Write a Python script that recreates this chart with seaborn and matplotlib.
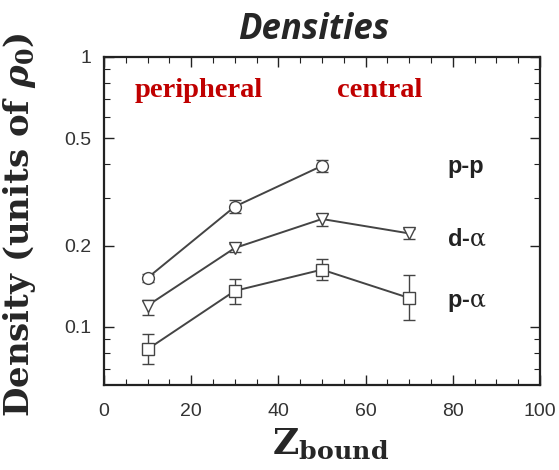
import matplotlib
matplotlib.use("Agg")
import matplotlib.pyplot as plt
import matplotlib.ticker as mticker
import seaborn as sns
import pandas as pd
import numpy as np

# ---- data ----
z_pp = [10, 30, 50]
dens_pp = [0.152, 0.279, 0.395]
lo_pp = [0.147, 0.265, 0.376]
hi_pp = [0.157, 0.295, 0.416]

z_da = [10, 30, 50, 70]
dens_da = [0.120, 0.196, 0.251, 0.222]
lo_da = [0.111, 0.190, 0.237, 0.211]
hi_da = [0.126, 0.202, 0.262, 0.230]

z_pa = [10, 30, 50, 70]
dens_pa = [0.0827, 0.136, 0.163, 0.128]
lo_pa = [0.0732, 0.122, 0.149, 0.106]
hi_pa = [0.0938, 0.151, 0.178, 0.156]

series_names = ["p-p", "d-α", "p-α"]
series_labels = [r"p-p", r"d-$\mathrm{\alpha}$", r"p-$\mathrm{\alpha}$"]
region_labels = ["peripheral", "central"]

sns.set_style("ticks")
plt.rcParams["mathtext.fontset"] = "custom"
plt.rcParams["mathtext.rm"] = "DejaVu Serif"
plt.rcParams["mathtext.bf"] = "DejaVu Serif:bold"
plt.rcParams["mathtext.it"] = "DejaVu Serif:italic"
plt.rcParams["mathtext.bfit"] = "DejaVu Serif:italic:bold"

df = pd.concat([
    pd.DataFrame({"Z": z_pp, "dens": dens_pp, "series": series_names[0]}),
    pd.DataFrame({"Z": z_da, "dens": dens_da, "series": series_names[1]}),
    pd.DataFrame({"Z": z_pa, "dens": dens_pa, "series": series_names[2]}),
])

fig = plt.figure(figsize=(5.59, 4.70), dpi=100)
ax = fig.add_axes([0.186, 0.181, 0.780, 0.698])

line_col = "#444444"
sns.lineplot(data=df, x="Z", y="dens", hue="series", style="series",
             markers={"p-p": "o", "d-α": "v", "p-α": "s"}, dashes=False,
             palette={n: line_col for n in series_names},
             markersize=8.5, markerfacecolor="white", markeredgecolor=line_col,
             markeredgewidth=1.0, linewidth=1.4, legend=False, ax=ax, zorder=3)

for zs, d, lo, hi in [(z_pp, dens_pp, lo_pp, hi_pp),
                      (z_da, dens_da, lo_da, hi_da),
                      (z_pa, dens_pa, lo_pa, hi_pa)]:
    d = np.array(d); lo = np.array(lo); hi = np.array(hi)
    ax.errorbar(zs, d, yerr=[d - lo, hi - d], fmt="none", ecolor=line_col,
                elinewidth=1.0, capsize=4, capthick=1.0, zorder=2)

ax.set_yscale("log")
ax.set_xlim(0, 100)
ax.set_ylim(0.061, 1.0)
ax.xaxis.set_major_locator(mticker.MultipleLocator(20))
ax.xaxis.set_minor_locator(mticker.MultipleLocator(5))
ax.yaxis.set_major_locator(mticker.FixedLocator([0.1, 0.2, 0.5, 1.0]))
ax.yaxis.set_major_formatter(mticker.FixedFormatter(["0.1", "0.2", "0.5", "1"]))
ax.yaxis.set_minor_locator(mticker.FixedLocator(
    [0.07, 0.08, 0.09, 0.3, 0.4, 0.6, 0.7, 0.8, 0.9]))
ax.yaxis.set_minor_formatter(mticker.NullFormatter())

ax.tick_params(which="both", direction="in", top=True, right=True,
               color="#222222", labelsize=14, labelcolor="#333333")
ax.tick_params(which="major", length=7, width=1.0)
ax.tick_params(axis="x", which="major", pad=13)
ax.tick_params(axis="y", which="major", pad=9)
ax.tick_params(which="minor", length=4, width=0.8)
for lbl in ax.get_xticklabels() + ax.get_yticklabels():
    lbl.set_fontfamily("Liberation Sans")
for sp in ax.spines.values():
    sp.set_linewidth(1.6)
    sp.set_color("#222222")

ax.set_title("Densities", fontfamily="Open Sans", fontweight="bold",
             fontstyle="italic", fontsize=25, pad=13, x=0.48)
ax.set_ylabel(r"Density (units of $\mathbfit{\rho}_{\mathbf{0}}$)",
              fontfamily="DejaVu Serif", fontweight="bold", fontsize=24.5)
ax.yaxis.set_label_coords(-0.152, 0.49)
ax.set_xlabel(r"$\mathbf{Z}_{\mathbf{bound}}$", fontsize=26)
ax.xaxis.set_label_coords(0.52, -0.125)

label_x = 78.7
label_y = [0.392, 0.212, 0.123]
for lab, yv in zip(series_labels, label_y):
    ax.text(label_x, yv, lab, fontfamily="Liberation Sans", fontweight="bold",
            fontsize=17, ha="left", va="center", color="#222222")

ax.text(7.1, 0.748, region_labels[0], fontfamily="Liberation Serif",
        fontweight="bold", fontsize=20.5, color="#c00000", ha="left", va="center")
ax.text(53.4, 0.748, region_labels[1], fontfamily="Liberation Serif",
        fontweight="bold", fontsize=20.5, color="#c00000", ha="left", va="center")

fig.savefig("out.png", dpi=100)
